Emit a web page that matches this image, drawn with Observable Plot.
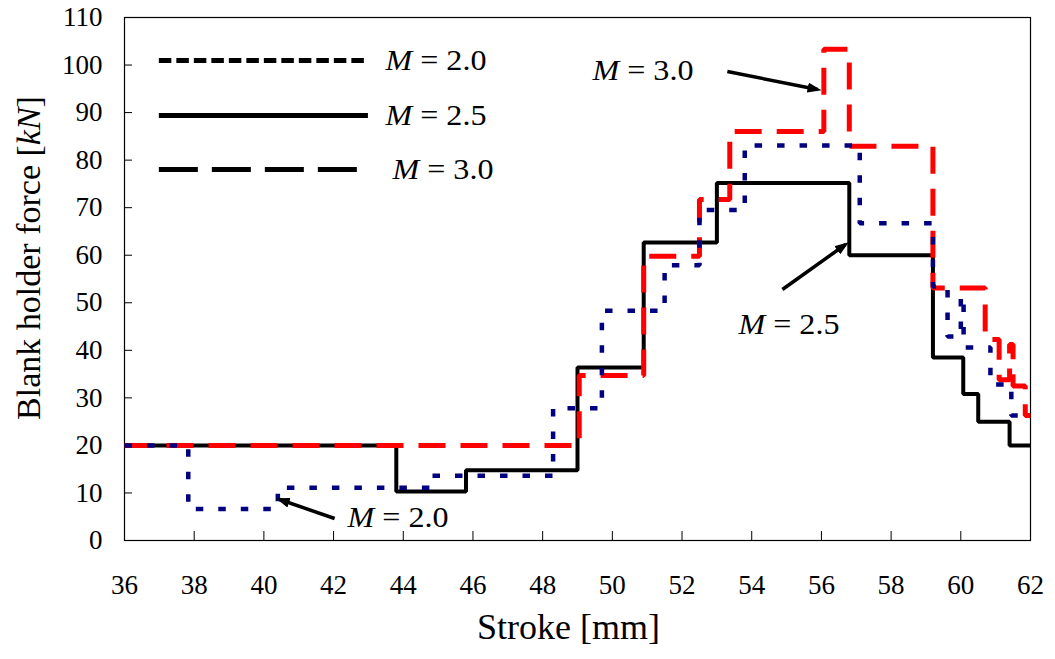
<!DOCTYPE html>
<html>
<head>
<meta charset="utf-8">
<script src="https://cdn.jsdelivr.net/npm/d3@7"></script>
<script src="https://cdn.jsdelivr.net/npm/@observablehq/plot@0.6"></script>
<style>
  html, body { margin: 0; padding: 0; background: #fff; }
  #chart svg { display: block; }
</style>
</head>
<body>
<div id="chart"></div>
<script>
// ---- tick values ----
const xTicks = [36, 38, 40, 42, 44, 46, 48, 50, 52, 54, 56, 58, 60, 62];
const yTicks = [0, 10, 20, 30, 40, 50, 60, 70, 80, 90, 100, 110];

// ---- series (step breakpoints: stroke [mm], blank holder force [kN]) ----
const strokeM20 = [36, 37.83, 40.4, 44.8, 48.3, 49.7, 51.5, 52.5, 53.8, 57.1, 59.2, 59.62, 60.0, 60.08, 60.85, 61.45, 62];
const forceM20  = [20, 6.6, 11.1, 13.6, 27.8, 48.3, 57.9, 69.5, 83.1, 66.7, 53.4, 42.9, 51.5, 40.6, 32.8, 26.3, 26.3];

const strokeM25 = [36, 43.8, 45.8, 49.0, 50.9, 53.0, 56.8, 59.2, 60.07, 60.5, 61.4, 62];
const forceM25  = [20, 10.3, 14.8, 36.4, 62.7, 75.2, 60.0, 38.5, 30.8, 25.0, 20.0, 20.0];

const strokeM30 = [36, 49.05, 50.9, 52.5, 53.37, 56.07, 56.8, 59.2, 60.7, 61.1, 61.4, 61.5, 61.85, 62];
const forceM30  = [20, 34.7, 59.8, 71.7, 86.0, 103.3, 82.9, 53.1, 42.3, 33.8, 41.2, 32.5, 26.3, 26.3];

// ---- texts ----
const seriesLabels = ["M = 2.0", "M = 2.5", "M = 3.0"];
const xTitle = "Stroke [mm]";
const yTitle = "Blank holder force [kN]";

// ---- annotation placement (data units) ----
const legendY   = [100.95, 89.38, 78.02];
const legendX1  = [37.0, 37.0, 37.0];
const legendX2  = [43.0, 43.0, 42.72];
const legendTx  = [43.49, 43.49, 43.69];
const noteTx    = [42.40, 53.62, 49.43];
const noteTy    = [4.69, 45.43, 98.85];
const arrowX1   = [42.03, 54.88, 53.30];
const arrowY1   = [4.63, 52.79, 98.64];
const arrowX2   = [40.45, 56.69, 55.89];
const arrowY2   = [8.62, 62.26, 94.86];

const toRows = (xs, ys) => xs.map((x, i) => ({x, y: ys[i]}));
const m20 = toRows(strokeM20, forceM20);
const m25 = toRows(strokeM25, forceM25);
const m30 = toRows(strokeM30, forceM30);

const legendRows = seriesLabels.map((label, i) => ({label, y: legendY[i], x1: legendX1[i], x2: legendX2[i], tx: legendTx[i]}));
const noteRows = seriesLabels.map((label, i) => ({label, x: noteTx[i], y: noteTy[i]}));
const arrowRows = seriesLabels.map((label, i) => ({x1: arrowX1[i], y1: arrowY1[i], x2: arrowX2[i], y2: arrowY2[i]}));

const lineBase = {x: "x", y: "y", curve: "step-after", strokeLinecap: "butt", strokeLinejoin: "miter"};
const serif = "Liberation Serif";

const chart = Plot.plot({
  width: 1055,
  height: 659,
  marginLeft: 124,
  marginRight: 25,
  marginTop: 17,
  marginBottom: 119,
  style: "font-family: Liberation Serif; font-size: 27px;",
  x: {domain: [36, 62]},
  y: {domain: [0, 110]},
  marks: [
    Plot.frame({stroke: "black", strokeWidth: 1.2}),
    Plot.axisX({ticks: xTicks, tickSize: -9, tickFormat: () => "", label: null}),
    Plot.axisX({ticks: xTicks, tickSize: 0, tickPadding: 34, fontSize: 27, label: null, tickFormat: d => String(d)}),
    Plot.axisY({ticks: yTicks, tickSize: -8, tickFormat: () => "", label: null}),
    Plot.axisY({ticks: yTicks, tickSize: 0, tickPadding: 22, fontSize: 27, label: null, tickFormat: d => String(d)}),

    Plot.line(m25, {...lineBase, stroke: "black", strokeWidth: 4}),
    Plot.line(m30, {...lineBase, stroke: "#ff0000", strokeWidth: 5, strokeDasharray: "27,15"}),
    Plot.line(m20, {...lineBase, stroke: "#000080", strokeWidth: 4.5, strokeDasharray: "7.5,15"}),

    // legend
    Plot.ruleY([legendRows[0]], {y: "y", x1: "x1", x2: "x2", stroke: "black", strokeWidth: 5, strokeDasharray: "12.5,5"}),
    Plot.ruleY([legendRows[1]], {y: "y", x1: "x1", x2: "x2", stroke: "black", strokeWidth: 5}),
    Plot.ruleY([legendRows[2]], {y: "y", x1: "x1", x2: "x2", stroke: "black", strokeWidth: 5, strokeDasharray: "39,14"}),
    Plot.text(legendRows, {x: "tx", y: "y", text: "label", textAnchor: "start", fontSize: 29, fontFamily: serif, ariaDescription: "eq"}),

    // annotations
    Plot.link(arrowRows, {x1: "x1", y1: "y1", x2: "x2", y2: "y2", stroke: "black", strokeWidth: 3.5, ariaDescription: "annot-arrow"}),
    Plot.text(noteRows, {x: "x", y: "y", text: "label", textAnchor: "start", fontSize: 29, fontFamily: serif, ariaDescription: "eq"}),

    // axis titles
    Plot.text([xTitle], {frameAnchor: "bottom", text: d => d, dy: 98, dx: -9, fontSize: 36, fontFamily: serif}),
    Plot.text([yTitle], {frameAnchor: "left", text: d => d, rotate: -90, textAnchor: "middle", dx: -95, dy: -21, fontSize: 34, fontFamily: serif, ariaDescription: "ytitle"})
  ]
});

document.getElementById("chart").appendChild(chart);

// ---- post-processing: filled arrowheads and italic variables ----
const svg = d3.select(chart);
const defs = svg.insert("defs", ":first-child");
defs.append("marker")
  .attr("id", "ah")
  .attr("viewBox", "0 0 14 10")
  .attr("refX", 10)
  .attr("refY", 5)
  .attr("markerWidth", 14)
  .attr("markerHeight", 10)
  .attr("markerUnits", "userSpaceOnUse")
  .attr("orient", "auto")
  .append("path").attr("d", "M0,0L14,5L0,10Z").attr("fill", "black");
svg.selectAll('g[aria-description="annot-arrow"] path').attr("marker-end", "url(#ah)");

svg.selectAll('g[aria-description="eq"] text').each(function () {
  const t = d3.select(this);
  const s = t.text();
  t.text(null);
  t.append("tspan").attr("font-style", "italic").text(s[0]);
  t.append("tspan").text(s.slice(1));
  t.attr("textLength", 101).attr("lengthAdjust", "spacingAndGlyphs");
});

svg.selectAll('g[aria-description="ytitle"] text').each(function () {
  const t = d3.select(this);
  const s = t.text();
  const i = s.indexOf("kN");
  t.text(null);
  t.append("tspan").text(s.slice(0, i));
  t.append("tspan").attr("font-style", "italic").text("kN");
  t.append("tspan").text(s.slice(i + 2));
});
</script>
</body>
</html>
